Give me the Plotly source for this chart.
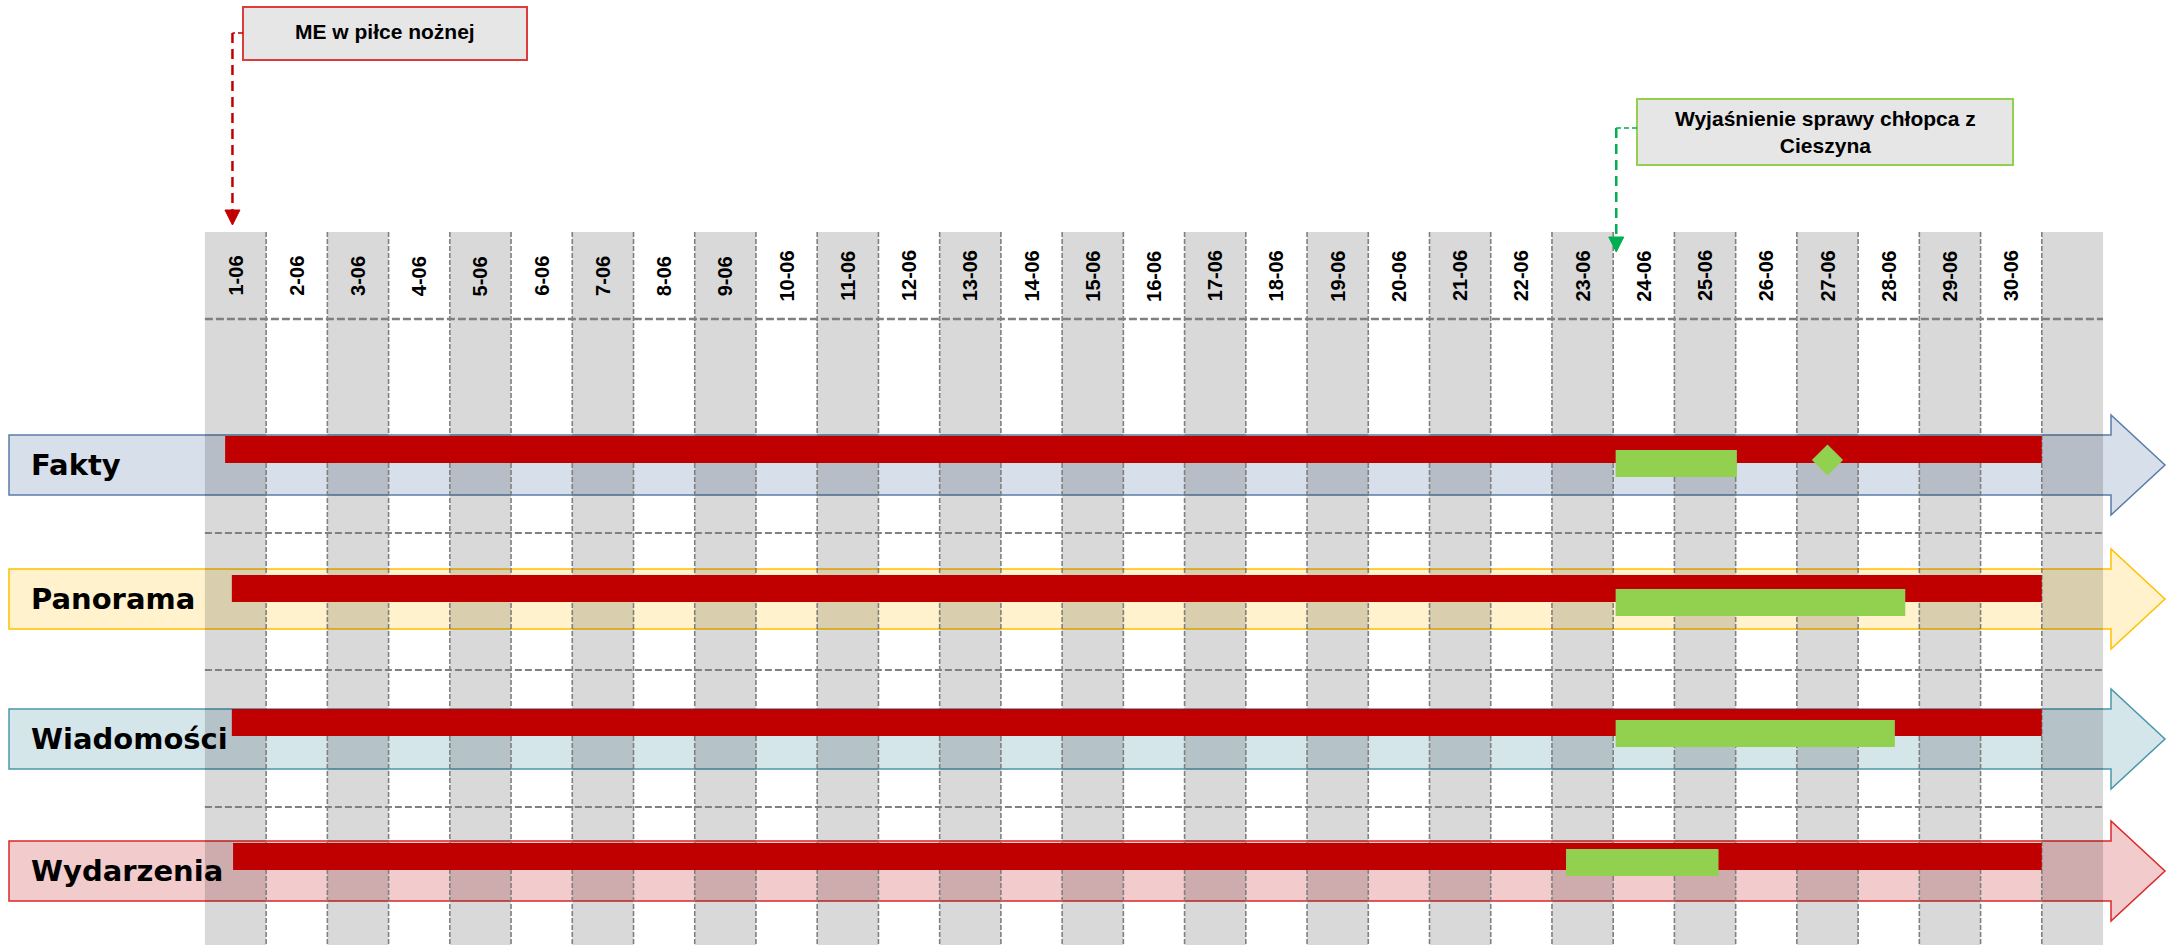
import plotly.graph_objects as go

W, H = 2168, 945

# ---------------- data ----------------
DAY_LABELS = ["1-06", "2-06", "3-06", "4-06", "5-06", "6-06", "7-06", "8-06", "9-06", "10-06",
              "11-06", "12-06", "13-06", "14-06", "15-06", "16-06", "17-06", "18-06", "19-06", "20-06",
              "21-06", "22-06", "23-06", "24-06", "25-06", "26-06", "27-06", "28-06", "29-06", "30-06"]
PROGRAMS = ["Fakty", "Panorama", "Wiadomości", "Wydarzenia"]
# day units: day d is centred on d (column spans d-0.5 .. d+0.5)
RED_START = [0.83, 0.94, 0.94, 0.96]
RED_END = [30.5, 30.5, 30.5, 30.5]
GREEN_START = [23.54, 23.54, 23.54, 22.73]
GREEN_END = [25.52, 28.27, 28.10, 25.22]
MILESTONE_PROGRAM = ["Fakty"]
MILESTONE_DAY = [27.0]
EVENT_LABELS = ["ME w piłce nożnej", "Wyjaśnienie sprawy chłopca z<br>Cieszyna"]
EVENT_DAY = [0.95, 23.55]

# ---------------- layout / style ----------------
GRID_LEFT_PX = 204.9
COL_PX = 61.23
N_COLS = 31
GRID_TOP = 232
LABEL_Y = 276
HEADER_LINE_Y = 319
SEPARATOR_Y = [533, 670, 807]
ROW_Y = [465, 599, 739, 871]
BODY_HALF = 30
HEAD_HALF = 50
ARROW_LEFT_PX = 9
ARROW_HEAD_PX = 2111
ARROW_TIP_PX = 2165
BAR_H = 27
RED_OFFSET = [-29, -24, -30, -28]
GREEN_OFFSET = [-15, -10, -19, -22]
ROW_LABEL_PX = 29
ARROW_FILL = ["#D6DFEA", "#FFF2CC", "#D5E6EB", "#F2CBCC"]
ARROW_LINE = ["#5A7DA8", "#FFC000", "#4B96AA", "#DC2828"]
RED = "#C00000"
GREEN = "#92D050"
GRID_COLOR = "#808080"

CALLOUT_BOX = [(243, 527, 7, 60), (1637, 2013, 99, 165)]
CALLOUT_TEXT_Y = [31, 132]
CALLOUT_STUB_Y = [33, 128]
CALLOUT_TIP_Y = [225, 252]
CALLOUT_LINE = ["#C00000", "#00B050"]
CALLOUT_BORDER = ["#DC3C3C", "#92D050"]
TRI_LEN = 15
TRI_HALF_PX = 7.5


def xd(px):
    return 0.5 + (px - GRID_LEFT_PX) / COL_PX


shapes = []
# row arrows
for i, y in enumerate(ROW_Y):
    x0, xb, xt = xd(ARROW_LEFT_PX), xd(ARROW_HEAD_PX), xd(ARROW_TIP_PX)
    path = (f"M{x0},{y-BODY_HALF} L{xb},{y-BODY_HALF} L{xb},{y-HEAD_HALF} L{xt},{y} "
            f"L{xb},{y+HEAD_HALF} L{xb},{y+BODY_HALF} L{x0},{y+BODY_HALF} Z")
    shapes.append(dict(type="path", path=path, xref="x", yref="y", layer="below",
                       fillcolor=ARROW_FILL[i], line=dict(color=ARROW_LINE[i], width=1.5)))
# grey day columns (odd days + extra column)
for d in range(1, N_COLS + 1, 2):
    shapes.append(dict(type="rect", xref="x", yref="y", layer="below",
                       x0=d - 0.5, x1=d + 0.5, y0=GRID_TOP, y1=H,
                       fillcolor="rgba(0,0,0,0.15)", line=dict(width=0)))
# vertical dashed grid lines
for k in range(1, N_COLS):
    shapes.append(dict(type="line", xref="x", yref="y", layer="below",
                       x0=k + 0.5, x1=k + 0.5, y0=GRID_TOP, y1=H,
                       line=dict(color=GRID_COLOR, width=1.6, dash="5px,2px")))
# horizontal lines
shapes.append(dict(type="line", xref="x", yref="y", layer="below",
                   x0=0.5, x1=N_COLS + 0.5, y0=HEADER_LINE_Y, y1=HEADER_LINE_Y,
                   line=dict(color=GRID_COLOR, width=2.5, dash="8px,3px")))
for sy in SEPARATOR_Y:
    shapes.append(dict(type="line", xref="x", yref="y", layer="below",
                       x0=0.5, x1=N_COLS + 0.5, y0=sy, y1=sy,
                       line=dict(color=GRID_COLOR, width=2, dash="7px,3px")))

annotations = []
# callouts
for j, lab in enumerate(EVENT_LABELS):
    bx0, bx1, by0, by1 = CALLOUT_BOX[j]
    ex = EVENT_DAY[j]
    shapes.append(dict(type="rect", xref="x", yref="y", layer="above",
                       x0=xd(bx0), x1=xd(bx1), y0=by0, y1=by1,
                       fillcolor="#E6E6E6", line=dict(color=CALLOUT_BORDER[j], width=2)))
    shapes.append(dict(type="line", xref="x", yref="y", layer="above",
                       x0=xd(bx0), x1=ex, y0=CALLOUT_STUB_Y[j], y1=CALLOUT_STUB_Y[j],
                       line=dict(color=CALLOUT_LINE[j], width=1.5, dash="5px,3px")))
    shapes.append(dict(type="line", xref="x", yref="y", layer="above",
                       x0=ex, x1=ex, y0=CALLOUT_STUB_Y[j], y1=CALLOUT_TIP_Y[j] - TRI_LEN,
                       line=dict(color=CALLOUT_LINE[j], width=2.5, dash="10px,6px")))
    hw = TRI_HALF_PX / COL_PX
    tip = CALLOUT_TIP_Y[j]
    shapes.append(dict(type="path", xref="x", yref="y", layer="above",
                       path=f"M{ex-hw},{tip-TRI_LEN} L{ex+hw},{tip-TRI_LEN} L{ex},{tip} Z",
                       fillcolor=CALLOUT_LINE[j], line=dict(color=CALLOUT_LINE[j], width=1)))
    annotations.append(dict(x=xd((bx0 + bx1) / 2), y=CALLOUT_TEXT_Y[j], xref="x", yref="y",
                            text=f"<b>{lab}</b>", showarrow=False, xanchor="center", yanchor="middle",
                            align="center",
                            font=dict(family="Liberation Sans, Arial, sans-serif", size=21, color="#000")))

# day labels
for d, lab in enumerate(DAY_LABELS, start=1):
    annotations.append(dict(x=d, y=LABEL_Y, xref="x", yref="y", text=f"<b>{lab}</b>",
                            showarrow=False, textangle=-90, xanchor="center", yanchor="middle",
                            font=dict(family="Liberation Sans, Arial, sans-serif", size=20, color="#000")))
# program labels
for i, p in enumerate(PROGRAMS):
    annotations.append(dict(x=xd(ROW_LABEL_PX), y=ROW_Y[i], xref="x", yref="y", text=f"<b>{p}</b>",
                            showarrow=False, xanchor="left", yanchor="middle",
                            font=dict(family="DejaVu Sans, Verdana, sans-serif", size=29, color="#000")))

fig = go.Figure()
fig.add_trace(go.Bar(orientation="h", y=ROW_Y, base=RED_START,
                     x=[e - s for s, e in zip(RED_START, RED_END)],
                     width=BAR_H, offset=RED_OFFSET,
                     marker=dict(color=RED, line=dict(width=0)), hoverinfo="skip"))
fig.add_trace(go.Bar(orientation="h", y=ROW_Y, base=GREEN_START,
                     x=[e - s for s, e in zip(GREEN_START, GREEN_END)],
                     width=BAR_H, offset=GREEN_OFFSET,
                     marker=dict(color=GREEN, line=dict(width=0)), hoverinfo="skip"))
fig.add_trace(go.Scatter(x=MILESTONE_DAY,
                         y=[ROW_Y[PROGRAMS.index(p)] - 5 for p in MILESTONE_PROGRAM],
                         mode="markers", marker=dict(symbol="diamond", size=24, color=GREEN,
                                                     line=dict(width=0)),
                         hoverinfo="skip"))

fig.update_layout(
    width=W, height=H, autosize=False,
    margin=dict(l=0, r=0, t=0, b=0, pad=0),
    paper_bgcolor="white", plot_bgcolor="white",
    showlegend=False, barmode="overlay",
    shapes=shapes, annotations=annotations,
    xaxis=dict(range=[xd(0), xd(W)], visible=False, showgrid=False, zeroline=False, fixedrange=True),
    yaxis=dict(range=[H, 0], visible=False, showgrid=False, zeroline=False, fixedrange=True),
)

fig.write_html("out.html", config={"displayModeBar": False},
               post_script="document.body.style.margin='0px';document.body.style.overflow='hidden';")
